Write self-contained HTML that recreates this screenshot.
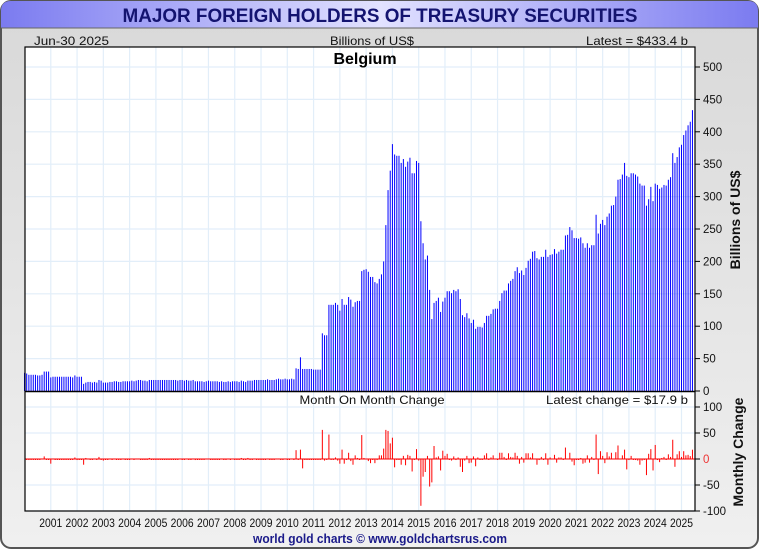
<!DOCTYPE html>
<html><head><meta charset="utf-8">
<style>
html,body{margin:0;padding:0;background:#fff;}
svg{display:block;font-family:"Liberation Sans",sans-serif;}
</style></head>
<body>
<svg id="chart" width="760" height="550" viewBox="0 0 760 550">
<defs>
<linearGradient id="tg" x1="0" y1="0" x2="1" y2="0">
<stop offset="0" stop-color="#7b7bf0"/><stop offset="0.5" stop-color="#e2e2ff"/><stop offset="1" stop-color="#7b7bf0"/>
</linearGradient>
<linearGradient id="bg" x1="0" y1="0" x2="0" y2="1">
<stop offset="0" stop-color="#d8d8d8"/><stop offset="1" stop-color="#f0f0f0"/>
</linearGradient>
</defs>
<rect x="1" y="1" width="757" height="547" rx="10" fill="url(#bg)" stroke="#555" stroke-width="2"/>
<path d="M1,28 L1,11 Q1,1 11,1 L748,1 Q758,1 758,11 L758,28 Z" fill="url(#tg)"/>
<line x1="1" y1="28" x2="758" y2="28" stroke="#666" stroke-width="1"/>
<text x="380" y="22" text-anchor="middle" font-size="19" font-weight="bold" fill="#141470" textLength="515" lengthAdjust="spacingAndGlyphs">MAJOR FOREIGN HOLDERS OF TREASURY SECURITIES</text>
<text x="34" y="45" font-size="12" fill="#111" textLength="75" lengthAdjust="spacingAndGlyphs">Jun-30  2025</text>
<text x="372" y="45" text-anchor="middle" font-size="12" fill="#111" textLength="84" lengthAdjust="spacingAndGlyphs">Billions of US$</text>
<text x="688" y="45" text-anchor="end" font-size="12" fill="#111" textLength="102" lengthAdjust="spacingAndGlyphs">Latest = $433.4 b</text>
<rect x="25" y="47" width="670" height="464" fill="#fff"/>
<g id="grid"></g>
<g id="bars"></g>
<g id="chg"></g>
<rect x="25" y="47" width="670" height="464" fill="none" stroke="#000" stroke-width="1.2"/>
<line x1="25" y1="391.5" x2="695" y2="391.5" stroke="#000" stroke-width="1.5"/>
<text x="365" y="64" text-anchor="middle" font-size="16" font-weight="bold" fill="#000">Belgium</text>
<text x="372" y="404" text-anchor="middle" font-size="12" fill="#111" textLength="145" lengthAdjust="spacingAndGlyphs">Month On Month Change</text>
<text x="688" y="404" text-anchor="end" font-size="12" fill="#111" textLength="142" lengthAdjust="spacingAndGlyphs">Latest change = $17.9 b</text>
<g id="yax"></g>
<g id="xax"></g>
<text transform="translate(740,220) rotate(-90)" text-anchor="middle" font-size="14" font-weight="bold" fill="#111">Billions of US$</text>
<text transform="translate(743,452) rotate(-90)" text-anchor="middle" font-size="14" font-weight="bold" fill="#111">Monthly Change</text>
<text x="380" y="543" text-anchor="middle" font-size="13" font-weight="bold" fill="#1a1a8a" textLength="254" lengthAdjust="spacingAndGlyphs">world gold charts © www.goldchartsrus.com</text>
</svg>
<script>
const startYear = 2000;
const yearLabels = ["2001","2002","2003","2004","2005","2006","2007","2008","2009","2010","2011","2012","2013","2014","2015","2016","2017","2018","2019","2020","2021","2022","2023","2024","2025"];
const valueTicks = [0,50,100,150,200,250,300,350,400,450,500];
const changeTicks = [-100,-50,0,50,100];
const holdings = [
28,27,25,25,25,25,24,24,25,30,30,30,
21,22,22,22,22,22,22,22,22,22,21,24,
22,22,22,11,13,14,14,13,14,13,17,16,
13,13,13,14,14,15,15,14,14,15,15,15,
15,16,15,16,17,17,16,16,15,17,17,17,
17,17,17,17,17,17,17,17,17,17,16,17,
17,16,17,16,16,17,15,15,15,15,14,15,
16,15,15,15,15,14,15,14,14,15,14,15,
15,15,14,16,15,14,16,16,16,17,17,17,
17,17,17,18,17,17,17,18,19,18,18,19,
18,18,19,18,35,34,52,34,34,34,34,34,
33,33,33,33,89,86,86,
133,133,133,136,133,124,142,133,133,145,141,
130,137,139,139,
185,187,188,184,176,176,168,166,173,180,200,
256,310,340,381,365,363,363,352,358,346,354,
360,336,336,355,352,
262,228,203,209,156,111,136,139,144,122,
138,144,154,154,151,156,154,157,142,117,
114,120,112,105,110,96,99,99,98,
105,116,116,119,126,127,127,139,151,155,
155,166,170,173,185,191,182,186,179,
190,201,204,215,216,205,203,207,207,218,
207,210,211,219,212,215,218,218,240,241,
253,248,236,236,235,237,228,221,228,221,
225,225,272,243,258,264,256,269,274,
286,287,300,326,327,334,352,332,330,336,
336,334,331,320,317,317,286,296,315,293,
320,318,312,314,318,317,326,330,
367,352,361,376,380,395,402,410,415.5,433.4
];
const NS="http://www.w3.org/2000/svg";
const X0=24.5, MW=2.19;
const xm = i => X0 + i*MW;
const xYear = y => X0 + (y-startYear)*12*MW;
const yV = v => 391 - v*0.648;
const yC = v => 459 - v*0.52;
function mk(tag, attrs, parent){const e=document.createElementNS(NS,tag);for(const k in attrs)e.setAttribute(k,attrs[k]);parent.appendChild(e);return e;}
const grid=document.getElementById('grid'), bars=document.getElementById('bars'), chg=document.getElementById('chg');
const yax=document.getElementById('yax'), xax=document.getElementById('xax');
yearLabels.forEach(l=>{
  const x=xYear(+l);
  const g=mk('line',{x1:x,x2:x,y1:47,y2:511,stroke:'#e2eef9','stroke-width':1.2},grid);
  
  
  const t=mk('text',{x:x,y:527,'text-anchor':'middle','font-size':11.5,fill:'#111',textLength:23,lengthAdjust:'spacingAndGlyphs'},xax);
  t.textContent=l;
  
  
});
valueTicks.forEach(v=>{
  const y=yV(v);
  if(v>0){const g=mk('line',{x1:25,x2:695,y1:y,y2:y,stroke:'#e2eef9','stroke-width':1.2},grid);
  
  }
  mk('line',{x1:695,x2:700,y1:y,y2:y,stroke:'#000'},yax);
  const t=mk('text',{x:703,y:y+4,'font-size':11.5,fill:'#111'},yax);
  t.textContent=v;
  
  
});
changeTicks.forEach(v=>{
  const y=yC(v);
  const g=mk('line',{x1:25,x2:695,y1:y,y2:y,stroke:'#e2eef9','stroke-width':1.2},grid);
  
  
  mk('line',{x1:695,x2:700,y1:y,y2:y,stroke:'#000'},yax);
  const t=mk('text',{x:703,y:y+4,'font-size':11.5,fill:v===0?'#e33':'#111'},yax);
  t.textContent=v;
  
  
});
holdings.forEach((v,i)=>{
  const r=mk('rect',{x:xm(i)-0.5,y:yV(v),width:1.0,height:Math.max(0,391-yV(v)),fill:'#0000ff'},bars);
  
  
});
mk('line',{x1:25,x2:695,y1:459,y2:459,stroke:'#ff0000','stroke-width':1},chg);
holdings.forEach((v,i)=>{
  if(i===0)return;
  const d=v-holdings[i-1];
  const y1=yC(Math.max(d,0)), y2=yC(Math.min(d,0));
  const r=mk('rect',{x:xm(i)-0.5,y:y1,width:1.0,height:Math.max(1,y2-y1),fill:'#ff0000'},chg);
  
  
});
</script>
</body></html>
